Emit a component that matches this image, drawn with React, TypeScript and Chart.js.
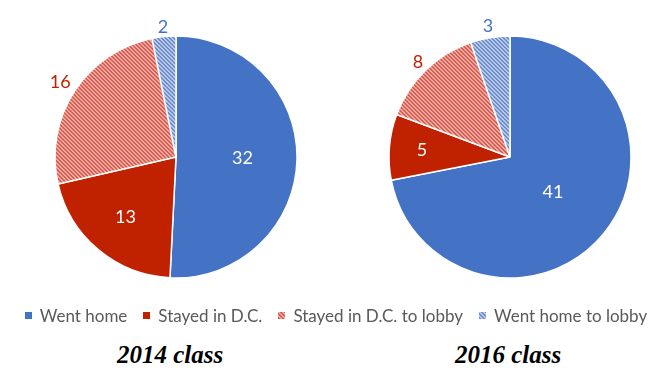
import React, { useEffect, useRef } from "react";
import { Chart, registerables } from "chart.js";
Chart.register(...registerables);

const categories = ["Went home", "Stayed in D.C.", "Stayed in D.C. to lobby", "Went home to lobby"];
const values2014 = [32, 13, 16, 2];
const values2016 = [41, 5, 8, 3];
const titles = ["2014 class", "2016 class"];

const BLUE = "#4472C4";
const RED = "#C02200";
const RED_D = "#d45f54";
const RED_L = "#f0a89e";
const BLUE_D = "#6e8fcd";
const BLUE_L = "#b9c8e4";
const FONT = "Lato, 'Open Sans', sans-serif";

function makeHatch(dark: string, light: string): CanvasPattern | string {
  const c = document.createElement("canvas");
  c.width = 4;
  c.height = 4;
  const ctx = c.getContext("2d");
  if (!ctx) return dark;
  for (let y = 0; y < 4; y++) {
    for (let x = 0; x < 4; x++) {
      ctx.fillStyle = ((x - y + 8) % 4) < 2 ? dark : light;
      ctx.fillRect(x, y, 1, 1);
    }
  }
  const p = ctx.createPattern(c, "repeat");
  return p || dark;
}

const labelPlugin = {
  id: "sliceLabels",
  afterDatasetsDraw(chart: any, _args: any, opts: any) {
    const ctx = chart.ctx;
    const meta = chart.getDatasetMeta(0);
    const ds = chart.data.datasets[0];
    const factors: number[] = opts.factors || [];
    const colors: string[] = opts.colors || [];
    ctx.save();
    ctx.font = `18px ${FONT}`;
    ctx.textAlign = "center";
    ctx.textBaseline = "middle";
    meta.data.forEach((arc: any, i: number) => {
      const mid = (arc.startAngle + arc.endAngle) / 2;
      const r = arc.outerRadius * (factors[i] ?? 0.6);
      const x = arc.x + Math.cos(mid) * r;
      const y = arc.y + Math.sin(mid) * r;
      ctx.fillStyle = colors[i] || "#fff";
      ctx.fillText(String(ds.data[i]), x, y);
    });
    ctx.restore();
  },
};

function Pie(props: { values: number[]; factors: number[]; left: number; top: number }) {
  const ref = useRef<HTMLCanvasElement>(null);
  useEffect(() => {
    if (!ref.current) return;
    const redHatch = makeHatch(RED_D, RED_L);
    const blueHatch = makeHatch(BLUE_D, BLUE_L);
    const chart = new Chart(ref.current, {
      type: "pie",
      data: {
        labels: categories,
        datasets: [
          {
            data: props.values,
            backgroundColor: [BLUE, RED, redHatch as any, blueHatch as any],
            borderColor: "#ffffff",
            borderWidth: 1.5,
          },
        ],
      },
      options: {
        responsive: false,
        animation: false,
        radius: 121,
        layout: { padding: 0 },
        plugins: {
          legend: { display: false },
          tooltip: { enabled: false },
          sliceLabels: {
            factors: props.factors,
            colors: ["#ffffff", "#ffffff", RED, BLUE],
          },
        } as any,
      } as any,
      plugins: [labelPlugin],
    });
    return () => chart.destroy();
  }, []);
  return (
    <canvas
      ref={ref}
      width={300}
      height={300}
      style={{ position: "absolute", left: props.left, top: props.top, width: 300, height: 300 }}
    />
  );
}

function Swatch(props: { kind: number }) {
  const bg =
    props.kind === 0
      ? BLUE
      : props.kind === 1
      ? RED
      : props.kind === 2
      ? `repeating-linear-gradient(45deg, ${RED_D} 0 1.5px, ${RED_L} 1.5px 3px)`
      : `repeating-linear-gradient(45deg, ${BLUE_D} 0 1.5px, ${BLUE_L} 1.5px 3px)`;
  return <span style={{ display: "inline-block", width: 7, height: 7, background: bg, marginRight: 8 }} />;
}

export default function App() {
  return (
    <div
      style={{
        position: "absolute",
        left: 0,
        top: 0,
        width: 672,
        height: 391,
        background: "#fff",
        overflow: "hidden",
      }}
    >
      <Pie values={values2014} factors={[0.55, 0.65, 1.14, 1.08]} left={26} top={7} />
      <Pie values={values2016} factors={[0.46, 0.73, 1.09, 1.1]} left={360} top={7} />
      <div
        style={{
          position: "absolute",
          left: 0,
          top: 304,
          width: 672,
          height: 22,
          display: "flex",
          justifyContent: "center",
          alignItems: "center",
          gap: 16,
          fontFamily: FONT,
          fontSize: 17,
          color: "#595959",
          whiteSpace: "nowrap",
        }}
      >
        {categories.map((c, i) => (
          <span key={c} style={{ display: "inline-flex", alignItems: "center" }}>
            <Swatch kind={i} />
            {c}
          </span>
        ))}
      </div>
      {titles.map((t, i) => (
        <div
          key={t}
          style={{
            position: "absolute",
            left: i === 0 ? 20 : 358,
            top: 340,
            width: 300,
            textAlign: "center",
            fontFamily: "'Liberation Serif', 'DejaVu Serif', serif",
            fontStyle: "italic",
            fontWeight: "bold",
            fontSize: 25,
            lineHeight: "30px",
            color: "#000",
          }}
        >
          {t}
        </div>
      ))}
    </div>
  );
}
